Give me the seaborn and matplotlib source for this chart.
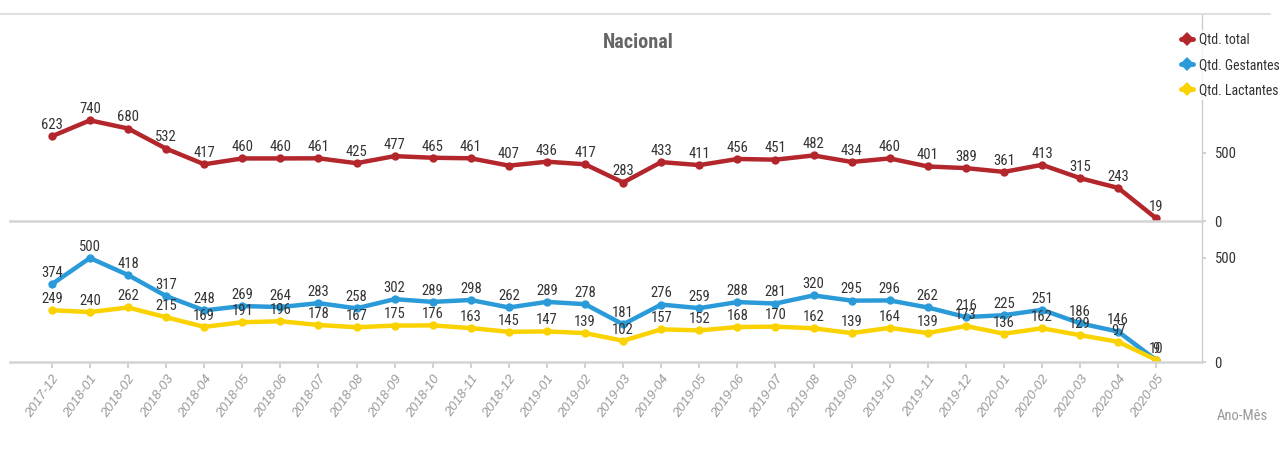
import matplotlib
matplotlib.use("Agg")
import matplotlib.pyplot as plt
from matplotlib.lines import Line2D
import seaborn as sns
import pandas as pd

months = ["2017-12", "2018-01", "2018-02", "2018-03", "2018-04", "2018-05", "2018-06",
          "2018-07", "2018-08", "2018-09", "2018-10", "2018-11", "2018-12", "2019-01",
          "2019-02", "2019-03", "2019-04", "2019-05", "2019-06", "2019-07", "2019-08",
          "2019-09", "2019-10", "2019-11", "2019-12", "2020-01", "2020-02", "2020-03",
          "2020-04", "2020-05"]
total = [623, 740, 680, 532, 417, 460, 460, 461, 425, 477, 465, 461, 407, 436, 417,
         283, 433, 411, 456, 451, 482, 434, 460, 401, 389, 361, 413, 315, 243, 19]
gestantes = [374, 500, 418, 317, 248, 269, 264, 283, 258, 302, 289, 298, 262, 289, 278,
             181, 276, 259, 288, 281, 320, 295, 296, 262, 216, 225, 251, 186, 146, 9]
lactantes = [249, 240, 262, 215, 169, 191, 196, 178, 167, 175, 176, 163, 145, 147, 139,
             102, 157, 152, 168, 170, 162, 139, 164, 139, 173, 136, 162, 129, 97, 10]
series_names = ["Qtd. total", "Qtd. Gestantes", "Qtd. Lactantes"]
title = "Nacional"
x_title = "Ano-Mês"

colors = {"Qtd. total": "#B3262B", "Qtd. Gestantes": "#2A9AD8", "Qtd. Lactantes": "#FAD200"}

sns.set_theme(style="white")
NARROW = ["Roboto Condensed", "Archivo Narrow", "PT Sans Narrow", "DejaVu Sans"]
REGULAR = ["Liberation Sans", "DejaVu Sans"]
plt.rcParams["font.family"] = NARROW

W, H = 1282, 470
fig = plt.figure(figsize=(W / 100, H / 100), dpi=100)

def fx(px):
    return px / W

def fy(py):
    return 1 - py / H

left, right = 10, 1202
ax_top = fig.add_axes([fx(left), fy(221), fx(right - left), (221 - 14) / H])
ax_bot = fig.add_axes([fx(left), fy(362), fx(right - left), (362 - 222) / H])

df_top = pd.DataFrame({"month": months, "value": total, "serie": series_names[0]})
df_bot = pd.concat([
    pd.DataFrame({"month": months, "value": gestantes, "serie": series_names[1]}),
    pd.DataFrame({"month": months, "value": lactantes, "serie": series_names[2]}),
])

for ax, df in ((ax_top, df_top), (ax_bot, df_bot)):
    sns.lineplot(data=df, x="month", y="value", hue="serie", palette=colors,
                 marker="o", markersize=6, markeredgewidth=0, linewidth=3.2,
                 sort=False, legend=False, ax=ax)
    for _, row in df.iterrows():
        ax.annotate(str(row["value"]), (months.index(row["month"]), row["value"]),
                    xytext=(0, 3), textcoords="offset points", ha="center", va="bottom",
                    fontsize=10.5, color="#333333", zorder=10)

n = len(months)
for ax in (ax_top, ax_bot):
    ax.set_xlim(-1.1, n - 1 + 1.2)
    ax.set_xlabel("")
    ax.set_ylabel("")
    ax.set_facecolor("none")
    for s in ("top", "left"):
        ax.spines[s].set_visible(False)
    ax.spines["bottom"].set_color("#d4d4d4")
    ax.spines["bottom"].set_linewidth(1.8)
    ax.spines["right"].set_color("#cccccc")
    ax.spines["right"].set_linewidth(1.0)
    ax.yaxis.tick_right()
    ax.set_yticks([0, 500])
    ax.tick_params(axis="y", colors="#cccccc", labelcolor="#333333", labelsize=10.5,
                   length=3, direction="out", pad=6)
    ax.grid(False)

ax_top.set_ylim(0, 1522)
ax_bot.set_ylim(0, 673)

ax_top.set_xticks(range(n))
ax_top.tick_params(axis="x", bottom=False, labelbottom=False)
ax_bot.set_xticks(range(n))
ax_bot.set_xticklabels(months, rotation=55, ha="right", rotation_mode="anchor",
                       fontsize=9.5, color="#999999", fontstyle="italic", family=REGULAR)
ax_bot.tick_params(axis="x", bottom=True, length=4, color="#cccccc", pad=4)

fig.text(fx(638), fy(42), title, ha="center", va="center", fontsize=14.5,
         fontweight="bold", color="#666666")
fig.text(fx(1242), fy(416), x_title, ha="center", va="center", fontsize=10.5,
         color="#999999")

fig.add_artist(Line2D([0, fx(1270)], [fy(14), fy(14)], color="#e0e0e0", lw=1.5))

handles = [Line2D([0], [0], color=colors[s], lw=3.5, marker="D", markersize=7,
                  markeredgewidth=0) for s in series_names]
leg = fig.legend(handles, series_names, loc="upper left",
                 bbox_to_anchor=(fx(1178), fy(30)), frameon=True, fontsize=10,
                 handlelength=0.9, handletextpad=0.4, labelspacing=0.8,
                 borderpad=0.2, borderaxespad=0)
leg.get_frame().set_facecolor("white")
leg.get_frame().set_edgecolor("none")
for t in leg.get_texts():
    t.set_color("#333333")

fig.savefig("out.png", dpi=100)
